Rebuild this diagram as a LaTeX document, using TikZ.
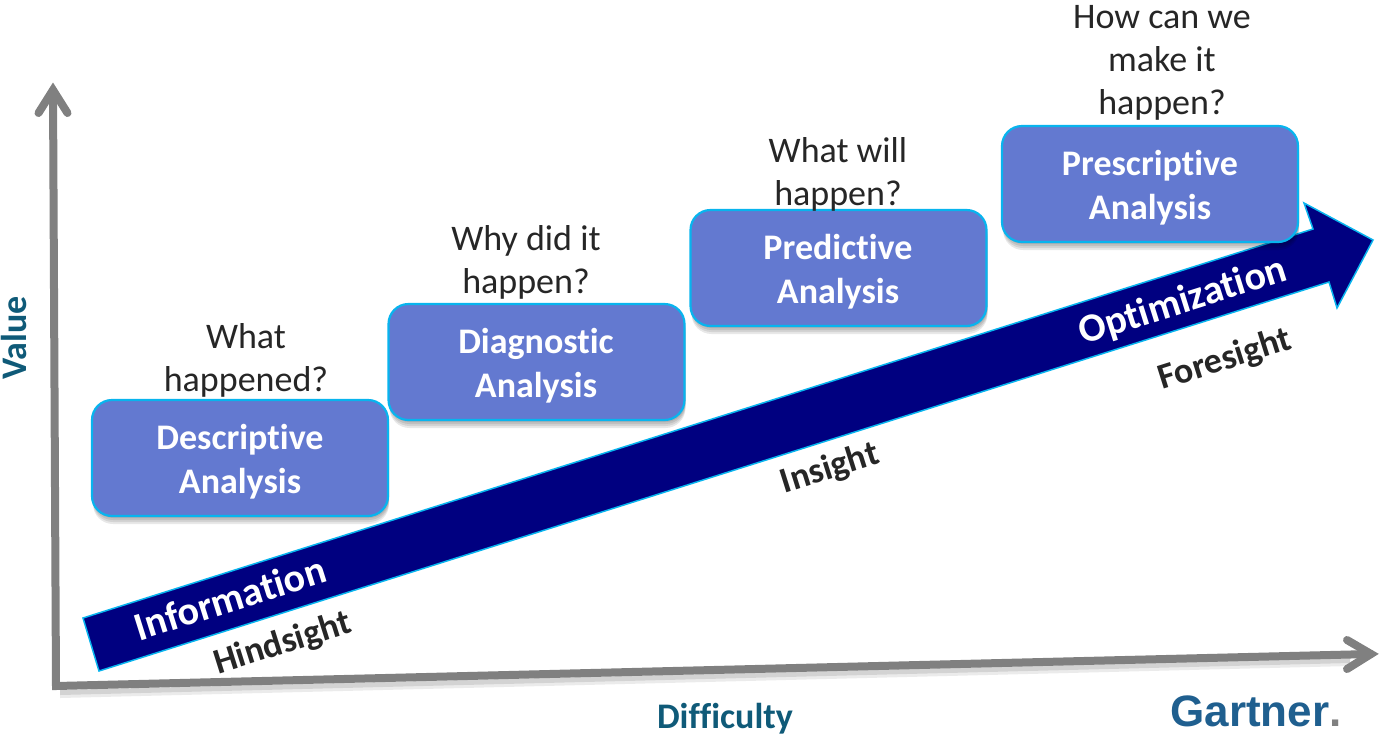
\documentclass[tikz,border=0pt]{standalone}
\usepackage{fontspec}
\setmainfont{Carlito}[Ligatures=NoCommon]
\newfontfamily\logofont{Liberation Sans}
\usetikzlibrary{shadows,arrows.meta}
\definecolor{boxfill}{HTML}{6379D0}
\definecolor{boxedge}{HTML}{08B4EE}
\definecolor{navyarrow}{HTML}{000080}
\definecolor{axisgray}{HTML}{808080}
\definecolor{teallabel}{HTML}{0F5A78}
\definecolor{logoblue}{HTML}{1F5F8F}
\definecolor{darktext}{HTML}{262626}
\tikzset{
  x=1pt,y=-1pt,
  softshadow/.style={general shadow={shadow xshift=1pt,shadow yshift=-#1,opacity=.09,fill=black}},
  stagebox/.style={draw=boxedge,line width=2.2pt,fill=boxfill,rounded corners=20pt,minimum width=296pt,minimum height=116pt,
    softshadow=2pt,softshadow=4pt,softshadow=6pt,softshadow=8pt,anchor=center,inner sep=0pt},
  stagetext/.style={text=white,font=\fontsize{36}{44}\selectfont\bfseries,align=center,anchor=center,inner sep=0pt},
  question/.style={text=darktext,font=\fontsize{36}{43}\selectfont,align=center,anchor=center,inner sep=0pt},
  axisline/.style={draw=axisgray,line width=8pt,line cap=round,line join=miter},
  ontext/.style={text=white,font=\fontsize{40}{40}\selectfont\bfseries,rotate=17.5,anchor=center,inner sep=0pt},
  sidetext/.style={text=darktext,font=\fontsize{36}{40}\selectfont\bfseries,rotate=17.5,anchor=center,inner sep=0pt},
  axistext/.style={text=teallabel,font=\fontsize{36}{40}\selectfont\bfseries,anchor=center,inner sep=0pt},
}
\begin{document}
\begin{tikzpicture}
\useasboundingbox (0,0) rectangle (1380,737);
% axes
\coordinate (origin) at (56,686);
\coordinate (ytip) at (53,90);
\coordinate (xtip) at (1371,654);
\coordinate (yl) at (38.5,113);
\coordinate (yr) at (67.5,113);
\coordinate (xu) at (1347,640);
\coordinate (xd) at (1347,669);
\fill[black,opacity=.1] (60,690) -- (1350,658) -- (1350,663) -- (60,695) -- cycle;
\fill[black,opacity=.08] (60,690) -- (1350,658) -- (1350,666) -- (60,698) -- cycle;
\draw[axisline] (ytip) -- (origin) -- (xtip);
\draw[axisline] (yl) -- (ytip) -- (yr);
\draw[axisline] (xu) -- (xtip) -- (xd);
% main arrow
\draw[draw=boxedge,line width=1.5pt,fill=navyarrow,line join=miter]
  (83,618) -- (1313,229) -- (1304,203) -- (1373,240) -- (1337,308) -- (1329,282) -- (99,671) -- cycle;
% boxes
\node[stagebox] (diag) at (536.5,362) {};
\node[stagebox] (desc) at (240,458) {};
\node[stagebox] (pred) at (838.5,268) {};
\node[stagebox] (pres) at (1150,184) {};
\node[stagetext] (desct) at (240,462) {Descriptive\\Analysis};
\node[stagetext] (diagt) at (536,366) {Diagnostic\\Analysis};
\node[stagetext] (predt) at (838,272) {Predictive\\Analysis};
\node[stagetext] (prest) at (1150,188) {Prescriptive\\Analysis};
% questions
\node[question] (q1) at (246,360) {What\\happened?};
\node[question] (q2) at (526,262) {Why did it\\happen?};
\node[question] (q3) at (838,174) {What will\\happen?};
\node[question] (q4) at (1162,63) {How can we\\make it\\happen?};
% arrow texts
\node[ontext] (info) at (230,598) {Information};
\node[ontext] (opt) at (1183,302) {Optimization};
\node[sidetext] (hind) at (283,644) {Hindsight};
\node[sidetext] (ins) at (830,469) {Insight};
\node[sidetext] (fore) at (1225,360) {Foresight};
% axis labels
\node[axistext,rotate=90] (val) at (14,338) {Value};
\node[axistext] (diff) at (725,719) {Difficulty};
\node[text=logoblue,font=\logofont\fontsize{44}{44}\selectfont\bfseries,anchor=center,inner sep=0pt] (logo) at (1256,711) {Gartner\textcolor{axisgray}{.}};
\end{tikzpicture}
\end{document}
